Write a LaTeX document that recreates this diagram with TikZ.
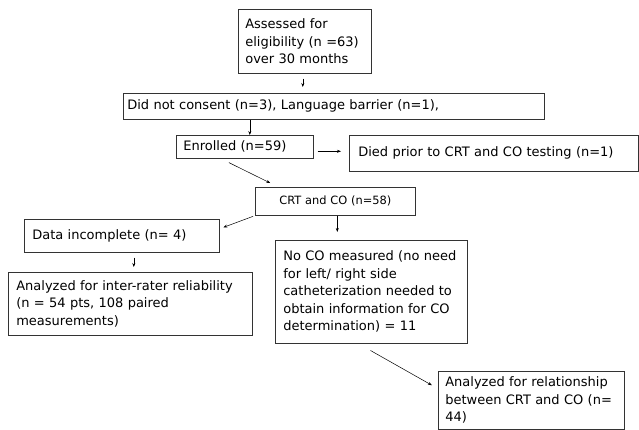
\documentclass[tikz,border=0pt]{standalone}
\usepackage{fontspec}
\setmainfont{DejaVu Sans}
\usetikzlibrary{arrows.meta}
\tikzset{
  box/.style={draw=black!80, line width=0.6pt, rectangle, anchor=north west, align=left,
    inner xsep=7pt, inner ysep=2pt, font=\fontsize{13}{17.5}\selectfont},
  arr/.style={-{Stealth[length=4pt,width=3pt]}, line width=0.5pt}
}
\begin{document}
\begin{tikzpicture}[x=1pt, y=-1pt]
    \useasboundingbox (0,0) rectangle (639,430);

    \node[box, text width=119pt, minimum height=64pt] (assess) at (238,9)
        {Assessed for\\eligibility (n =63)\\over 30 months};
    \node[box, inner xsep=4pt, text width=413pt, minimum height=26pt] (excl) at (123,93)
        {Did not consent (n=3), Language barrier (n=1),};
    \node[box, text width=123pt, minimum height=23pt] (enrol) at (176,135)
        {Enrolled (n=59)};
    \node[box, inner xsep=9pt, text width=271pt, minimum height=36pt] (died) at (349,135)
        {Died prior to CRT and CO testing (n=1)};
    \node[box, align=center, text width=146pt, minimum height=28pt,
          font=\fontsize{11.4}{14}\selectfont] (crt) at (255,187)
        {CRT and CO (n=58)};
    \node[box, inner xsep=8pt, text width=179pt, minimum height=33pt] (data) at (24,219)
        {Data incomplete (n= 4)};
    \node[box, inner xsep=8pt, text width=228pt, minimum height=63pt] (irr) at (8,272)
        {Analyzed for inter-rater reliability\\(n = 54 pts, 108 paired\\measurements)};
    \node[box, inner xsep=8pt, text width=176pt, minimum height=103pt] (noco) at (275,240)
        {No CO measured (no need\\for left/ right side\\catheterization needed to\\obtain information for CO\\determination) = 11};
    \node[box, text width=172pt, minimum height=58pt] (rel) at (438,371)
        {Analyzed for relationship\\between CRT and CO (n=\\44)};

    \draw[arr, shorten <=5pt, shorten >=6pt] ([xshift=-2pt]assess.south) -- ([xshift=-2pt]assess.south |- excl.north);
    \draw[arr] ([xshift=5pt]enrol.north |- excl.south) -- ([xshift=5pt]enrol.north);
    \draw[arr, shorten <=4pt, shorten >=8pt] ([yshift=-4.5pt]enrol.east) -- ([yshift=-4.5pt]enrol.east -| died.west);
    \draw[arr, shorten <=9pt, shorten >=9pt] ([xshift=-24pt]enrol.south) -- ([xshift=-57pt]crt.north);
    \draw[arr, shorten <=2pt, shorten >=4pt] (crt.south west) -- ([yshift=7pt]data.east);
    \draw[arr, shorten >=8pt] ([xshift=2pt]crt.south) -- ([xshift=2pt]crt.south |- noco.north);
    \draw[arr, shorten <=5pt, shorten >=5pt] ([xshift=12pt]data.south) -- ([xshift=12pt]data.south |- irr.north);
    \draw[arr, shorten <=14pt, shorten >=7pt] ([xshift=-13pt]noco.south) -- ([yshift=11.6pt]rel.west);
\end{tikzpicture}
\end{document}
